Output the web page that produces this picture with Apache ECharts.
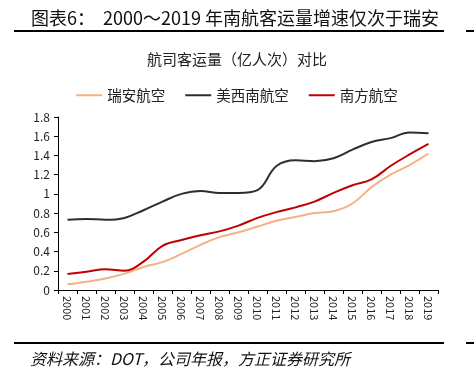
<!DOCTYPE html>
<html>
<head>
<meta charset="utf-8">
<script src="https://cdn.jsdelivr.net/npm/echarts@6/dist/echarts.min.js"></script>
<style>
  html, body { margin: 0; padding: 0; background: #fff; }
  #chart { width: 474px; height: 377px; }
</style>
</head>
<body>
<div id="chart"></div>
<script>
// 연도 / 항공사별 여객 운송량 (억 명)
const years = ["2000", "2001", "2002", "2003", "2004", "2005", "2006", "2007", "2008", "2009",
    "2010", "2011", "2012", "2013", "2014", "2015", "2016", "2017", "2018", "2019"];
const ryanair = [0.06, 0.087, 0.12, 0.17, 0.24, 0.29, 0.375, 0.47, 0.55, 0.60,
    0.66, 0.72, 0.76, 0.80, 0.82, 0.90, 1.07, 1.20, 1.30, 1.42];
const southwest = [0.73, 0.74, 0.73, 0.75, 0.83, 0.92, 1.0, 1.03, 1.01, 1.01,
    1.04, 1.29, 1.35, 1.34, 1.37, 1.46, 1.54, 1.58, 1.64, 1.63];
const chinaSouthern = [0.167, 0.19, 0.215, 0.20, 0.295, 0.46, 0.52, 0.57, 0.61, 0.67,
    0.75, 0.81, 0.86, 0.92, 1.01, 1.09, 1.15, 1.29, 1.41, 1.52];
const yTicks = [0, 0.2, 0.4, 0.6, 0.8, 1, 1.2, 1.4, 1.6, 1.8];

const FONT = "Noto Sans CJK SC";
const chart = echarts.init(document.getElementById("chart"));

chart.setOption({
    animation: false,
    textStyle: { fontFamily: FONT },
    title: [
        {
            text: "图表6：  2000～2019 年南航客运量增速仅次于瑞安",
            left: 26,
            top: 4,
            textStyle: { fontSize: 18, fontWeight: "normal", color: "#111", fontFamily: FONT }
        },
        {
            text: "航司客运量（亿人次）对比",
            left: "center",
            top: 47,
            textStyle: { fontSize: 15, fontWeight: "normal", color: "#222", fontFamily: FONT }
        },
        {
            text: "资料来源：DOT，公司年报，方正证券研究所",
            left: 25,
            top: 346,
            textStyle: { fontSize: 16, fontWeight: "normal", fontStyle: "italic", color: "#111", fontFamily: FONT }
        }
    ],
    graphic: [
        { type: "rect", shape: { x: 14, y: 30, width: 430, height: 2 }, style: { fill: "#000" } },
        { type: "rect", shape: { x: 466, y: 30, width: 8, height: 2 }, style: { fill: "#000" } },
        { type: "rect", shape: { x: 14, y: 342, width: 430, height: 2 }, style: { fill: "#000" } },
        { type: "rect", shape: { x: 466, y: 342, width: 8, height: 2 }, style: { fill: "#000" } }
    ],
    legend: {
        top: 83,
        left: "center",
        icon: "rect",
        itemWidth: 26,
        itemHeight: 2,
        itemGap: 20,
        textStyle: { fontSize: 14.5, color: "#222", fontFamily: FONT },
        data: ["瑞安航空", "美西南航空", "南方航空"]
    },
    grid: {
        left: 58,
        right: 36,
        top: 117,
        bottom: 87
    },
    xAxis: {
        type: "category",
        data: years,
        boundaryGap: true,
        axisLine: { lineStyle: { color: "#000", width: 1 } },
        axisTick: { show: true, lineStyle: { color: "#000" }, length: 4 },
        axisLabel: { rotate: -90, fontSize: 11, color: "#222", margin: 6, interval: 0 }
    },
    yAxis: {
        type: "value",
        min: 0,
        max: 1.8,
        interval: 0.2,
        axisLine: { show: true, lineStyle: { color: "#000" } },
        axisTick: { show: true, inside: false, length: 4, lineStyle: { color: "#000" } },
        splitLine: { show: false },
        axisLabel: {
            fontSize: 12,
            color: "#222",
            margin: 8,
            formatter: function (v) {
                const hit = yTicks.find(t => Math.abs(t - v) < 1e-6);
                return hit === undefined ? "" : String(hit);
            }
        }
    },
    series: [
        {
            name: "瑞安航空",
            type: "line",
            data: ryanair,
            smooth: 0.4,
            showSymbol: false,
            lineStyle: { color: "#F4B183", width: 2 },
            itemStyle: { color: "#F4B183" }
        },
        {
            name: "美西南航空",
            type: "line",
            data: southwest,
            smooth: 0.4,
            showSymbol: false,
            lineStyle: { color: "#2E2E2E", width: 2 },
            itemStyle: { color: "#2E2E2E" }
        },
        {
            name: "南方航空",
            type: "line",
            data: chinaSouthern,
            smooth: 0.4,
            showSymbol: false,
            lineStyle: { color: "#C00000", width: 2 },
            itemStyle: { color: "#C00000" }
        }
    ]
});
</script>
</body>
</html>
